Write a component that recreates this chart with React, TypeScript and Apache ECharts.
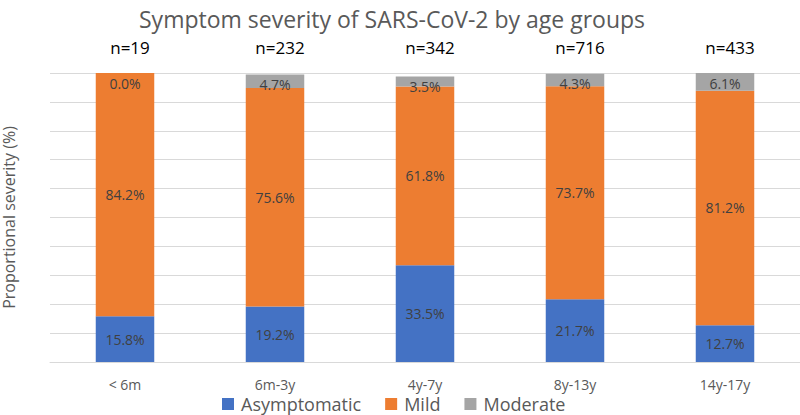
import React, { useEffect, useRef } from "react";
import * as echarts from "echarts";

const categories = ["< 6m", "6m-3y", "4y-7y", "8y-13y", "14y-17y"];
const sampleSizes = ["n=19", "n=232", "n=342", "n=716", "n=433"];
const asymptomatic = [15.8, 19.2, 33.5, 21.7, 12.7];
const mild = [84.2, 75.6, 61.8, 73.7, 81.2];
const moderate = [0.0, 4.7, 3.5, 4.3, 6.1];

const FONT = "'Open Sans', 'Noto Sans', sans-serif";

export default function App() {
  const ref = useRef<HTMLDivElement>(null);
  useEffect(() => {
    if (!ref.current) return;
    const chart = echarts.init(ref.current, null, { renderer: "svg" });
    const labelStyle = {
      show: true,
      color: "#404040",
      fontSize: 14,
      fontFamily: FONT,
      formatter: (p: any) => `${Number(p.value).toFixed(1)}%`,
    };
    chart.setOption({
      animation: false,
      textStyle: { fontFamily: FONT },
      title: {
        text: "Symptom severity of SARS-CoV-2 by age groups",
        left: 134,
        top: 2,
        textStyle: { fontSize: 23, fontWeight: "normal", color: "#595959", fontFamily: FONT },
      },
      legend: {
        data: ["Asymptomatic", "Mild", "Moderate"],
        left: 222,
        top: 394,
        padding: 0,
        itemWidth: 12,
        itemHeight: 12,
        itemGap: 24,
        icon: "rect",
        textStyle: { fontSize: 18, lineHeight: 20, color: "#595959", fontFamily: FONT, padding: [0, 0, 0, 2] },
      },
      grid: { left: 50, right: 0, top: 73, bottom: 53, outerBoundsMode: "none", containLabel: false },
      xAxis: [
        {
          type: "category",
          data: categories,
          axisLine: { show: true, lineStyle: { color: "#D9D9D9" } },
          axisTick: { show: false },
          axisLabel: { color: "#595959", fontSize: 14, margin: 15, fontFamily: FONT },
        },
        {
          type: "category",
          data: sampleSizes,
          position: "top",
          axisLine: { show: false },
          axisTick: { show: false },
          axisLabel: { color: "#000000", fontSize: 17, margin: 17, padding: [0, 0, 0, 10], fontFamily: FONT },
        },
      ],
      yAxis: {
        type: "value",
        min: 0,
        max: 100,
        interval: 10,
        name: "Proportional severity (%)",
        nameLocation: "middle",
        nameGap: 33,
        nameTextStyle: { fontSize: 16, color: "#595959", fontFamily: FONT },
        axisLabel: { show: false },
        axisLine: { show: false },
        axisTick: { show: false },
        splitLine: { lineStyle: { color: "#D9D9D9", width: 1 } },
      },
      series: [
        {
          name: "Asymptomatic",
          type: "bar",
          stack: "total",
          barWidth: "39%",
          data: asymptomatic,
          itemStyle: { color: "#4472C4" },
          label: { ...labelStyle, position: "inside" },
        },
        {
          name: "Mild",
          type: "bar",
          stack: "total",
          data: mild,
          itemStyle: { color: "#ED7D31" },
          label: { ...labelStyle, position: "inside" },
        },
        {
          name: "Moderate",
          type: "bar",
          stack: "total",
          data: moderate,
          itemStyle: { color: "#A5A5A5" },
          label: { ...labelStyle, position: "insideTop", distance: 3 },
        },
      ],
    });
    return () => chart.dispose();
  }, []);
  return <div ref={ref} style={{ width: 800, height: 415, position: "absolute", left: 0, top: 0 }} />;
}
